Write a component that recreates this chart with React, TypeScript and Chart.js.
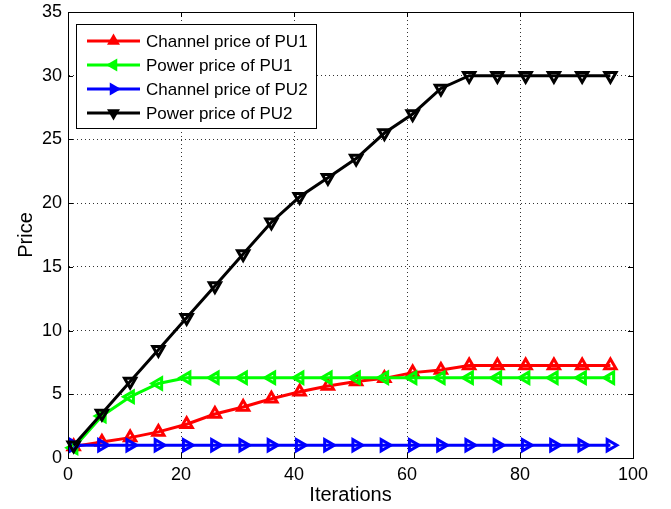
import React, { useEffect, useRef } from 'react';
import { Chart, registerables } from 'chart.js';

Chart.register(...registerables);

const iterations = [1, 6, 11, 16, 21, 26, 31, 36, 41, 46, 51, 56, 61, 66, 71, 76, 81, 86, 91, 96];
const channelPricePU1 = [0.9, 1.25, 1.6, 2.05, 2.65, 3.45, 4.0, 4.65, 5.2, 5.65, 6.0, 6.25, 6.7, 6.9, 7.25, 7.25, 7.25, 7.25, 7.25, 7.25];
const powerPricePU1 = [0.8, 3.3, 4.8, 5.85, 6.3, 6.3, 6.3, 6.3, 6.3, 6.3, 6.3, 6.3, 6.3, 6.3, 6.3, 6.3, 6.3, 6.3, 6.3, 6.3];
const channelPricePU2 = [1.0, 1.0, 1.0, 1.0, 1.0, 1.0, 1.0, 1.0, 1.0, 1.0, 1.0, 1.0, 1.0, 1.0, 1.0, 1.0, 1.0, 1.0, 1.0, 1.0];
const powerPricePU2 = [1.0, 3.5, 6.0, 8.5, 11.0, 13.5, 16.0, 18.5, 20.5, 22.0, 23.5, 25.5, 27.0, 29.0, 30.0, 30.0, 30.0, 30.0, 30.0, 30.0];

const seriesLabels = ['Channel price of PU1', 'Power price of PU1', 'Channel price of PU2', 'Power price of PU2'];
const seriesValues = [channelPricePU1, powerPricePU1, channelPricePU2, powerPricePU2];
const seriesColors = ['#ff0000', '#00ff00', '#0000ff', '#000000'];
const seriesRotations = [0, -90, 90, 180];

const xMin = 0, xMax = 100, xStep = 20;
const yMin = 0, yMax = 35, yStep = 5;
const xTitle = 'Iterations';
const yTitle = 'Price';

const FONT = "'Liberation Sans', Arial, Helvetica, sans-serif";

function drawTri(ctx: CanvasRenderingContext2D, x: number, y: number, r: number, rotDeg: number) {
  let rad = (rotDeg * Math.PI) / 180;
  ctx.beginPath();
  ctx.moveTo(x + Math.sin(rad) * r, y - Math.cos(rad) * r);
  rad += (2 * Math.PI) / 3;
  ctx.lineTo(x + Math.sin(rad) * r, y - Math.cos(rad) * r);
  rad += (2 * Math.PI) / 3;
  ctx.lineTo(x + Math.sin(rad) * r, y - Math.cos(rad) * r);
  ctx.closePath();
}

const boxPlugin = {
  id: 'matlabBox',
  afterDraw(chart: any) {
    const { ctx, chartArea, scales } = chart;
    const { left, right, top, bottom } = chartArea;
    ctx.save();
    ctx.strokeStyle = '#000';
    ctx.lineWidth = 1;
    ctx.strokeRect(Math.round(left) + 0.5, Math.round(top) + 0.5, Math.round(right - left), Math.round(bottom - top));
    const tl = 5;
    ctx.beginPath();
    for (let v = xMin; v <= xMax; v += xStep) {
      const px = Math.round(scales.x.getPixelForValue(v)) + 0.5;
      ctx.moveTo(px, bottom);
      ctx.lineTo(px, bottom - tl);
      ctx.moveTo(px, top);
      ctx.lineTo(px, top + tl);
    }
    for (let v = yMin; v <= yMax; v += yStep) {
      const py = Math.round(scales.y.getPixelForValue(v)) + 0.5;
      ctx.moveTo(left, py);
      ctx.lineTo(left + tl, py);
      ctx.moveTo(right, py);
      ctx.lineTo(right - tl, py);
    }
    ctx.stroke();

    // legend
    const lx = 76.5, ly = 24.5, lw = 240, lh = 104;
    ctx.fillStyle = '#fff';
    ctx.fillRect(lx, ly, lw, lh);
    ctx.strokeStyle = '#000';
    ctx.lineWidth = 1;
    ctx.strokeRect(lx, ly, lw, lh);
    ctx.font = `17px ${FONT}`;
    ctx.textBaseline = 'middle';
    ctx.textAlign = 'left';
    seriesLabels.forEach((label, i) => {
      const y = 41 + 24 * i;
      ctx.strokeStyle = seriesColors[i];
      ctx.lineWidth = 3;
      ctx.beginPath();
      ctx.moveTo(87, y);
      ctx.lineTo(140, y);
      ctx.stroke();
      ctx.fillStyle = seriesColors[i];
      drawTri(ctx, 113.5, y, 7.5, seriesRotations[i]);
      ctx.fill();
      ctx.fillStyle = '#000';
      ctx.fillText(label, 146, y + 1);
    });
    ctx.restore();
  },
};

export default function App() {
  const ref = useRef<HTMLCanvasElement | null>(null);
  useEffect(() => {
    if (!ref.current) return;
    const datasets = seriesValues.map((vals, i) => ({
      label: seriesLabels[i],
      data: iterations.map((x, j) => ({ x, y: vals[j] })),
      borderColor: seriesColors[i],
      backgroundColor: 'rgba(255,255,255,0)',
      borderWidth: 3,
      pointStyle: 'triangle',
      pointRotation: seriesRotations[i],
      pointRadius: 6.5,
      pointBorderWidth: 3,
      pointBorderColor: seriesColors[i],
      pointBackgroundColor: 'rgba(255,255,255,0)',
      showLine: true,
      tension: 0,
      clip: false as any,
      order: 4 - i,
    }));
    const chart = new Chart(ref.current, {
      type: 'scatter',
      data: { datasets },
      options: {
        animation: false,
        responsive: false,
        maintainAspectRatio: false,
        layout: { padding: { left: 0, right: 38, top: 12, bottom: 0 } },
        plugins: { legend: { display: false }, tooltip: { enabled: false } },
        scales: {
          x: {
            type: 'linear',
            min: xMin,
            max: xMax,
            ticks: { stepSize: xStep, color: '#000', font: { family: FONT, size: 18 }, padding: 6, maxRotation: 0 },
            grid: { color: '#333', lineWidth: 1, drawTicks: false },
            border: { display: true, color: '#000', width: 1, dash: [1, 3] },
            title: { display: true, text: xTitle, color: '#000', font: { family: FONT, size: 20 }, padding: { top: 0, bottom: 2 } },
            afterFit: (s: any) => { s.height = 51; s.paddingLeft = 0; s.paddingRight = 0; },
          },
          y: {
            type: 'linear',
            min: yMin,
            max: yMax,
            ticks: { stepSize: yStep, color: '#000', font: { family: FONT, size: 18 }, padding: 6 },
            grid: { color: '#333', lineWidth: 1, drawTicks: false },
            border: { display: true, color: '#000', width: 1, dash: [1, 3] },
            title: { display: true, text: yTitle, color: '#000', font: { family: FONT, size: 20 }, padding: { top: 14, bottom: 0 } },
            afterFit: (s: any) => { s.width = 68; s.paddingTop = 0; s.paddingBottom = 0; },
          },
        },
      },
      plugins: [boxPlugin],
    } as any);
    return () => chart.destroy();
  }, []);
  return (
    <div style={{ position: 'fixed', left: 0, top: 0, width: 671, height: 509, background: '#fff' }}>
      <canvas ref={ref} width={671} height={509} style={{ display: 'block' }} />
    </div>
  );
}
